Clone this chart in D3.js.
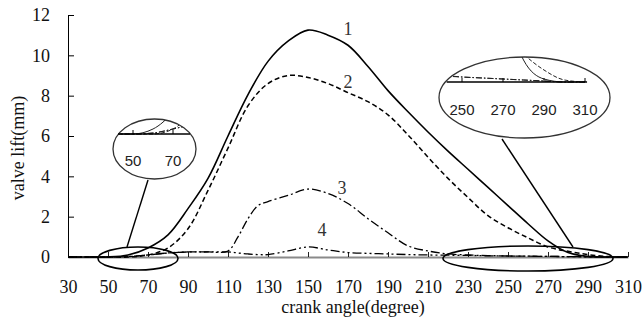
<!DOCTYPE html>
<html>
<head>
<meta charset="utf-8">
<script src="https://cdn.jsdelivr.net/npm/d3@7"></script>
<style>
  body { margin: 0; background: #fff; }
  svg { display: block; }
  .serif { font-family: "Liberation Serif", "Times New Roman", serif; }
  .sans { font-family: "Liberation Sans", Arial, sans-serif; }
</style>
</head>
<body>
<div id="chart"></div>
<script>
// crank angle (degree)
const angles12 = [30, 40, 50, 60, 70, 80, 90, 100, 110, 120, 130, 140, 150, 160, 170, 180, 190, 200, 210, 220, 230, 240, 250, 260, 270, 280, 290, 300, 310];
const angles34 = [30, 40, 50, 60, 70, 80, 90, 100, 110, 115, 120, 125, 130, 140, 150, 160, 170, 180, 190, 200, 210, 220, 230, 240, 250, 260, 270, 280, 290, 300, 310];
// valve lift (mm) for the 4 curves
const lift1 = [0, 0, 0, 0.1, 0.45, 1.1, 2.4, 3.9, 6.0, 8.05, 9.7, 10.7, 11.25, 11.0, 10.5, 9.45, 8.25, 7.2, 6.2, 5.25, 4.35, 3.45, 2.55, 1.65, 0.8, 0.22, 0.03, 0, 0];
const lift2 = [0, 0, 0, 0, 0.1, 0.45, 1.4, 3.3, 5.4, 7.5, 8.6, 9.0, 8.9, 8.6, 8.15, 7.7, 7.05, 6.05, 4.95, 3.9, 2.95, 2.05, 1.45, 0.95, 0.5, 0.28, 0.12, 0.02, 0];
const lift3 = [0, 0, 0, 0.02, 0.1, 0.2, 0.25, 0.25, 0.3, 1.0, 1.9, 2.55, 2.75, 3.05, 3.37, 3.15, 2.65, 1.9, 1.2, 0.55, 0.3, 0.15, 0.1, 0.07, 0.05, 0.04, 0.03, 0.02, 0.01, 0, 0];
const lift4 = [0, 0, 0, 0.02, 0.1, 0.2, 0.25, 0.25, 0.25, 0.2, 0.15, 0.12, 0.12, 0.3, 0.5, 0.35, 0.22, 0.18, 0.15, 0.12, 0.1, 0.09, 0.08, 0.06, 0.05, 0.04, 0.03, 0.02, 0.01, 0, 0];
const curveNames = ["1", "2", "3", "4"];
const xTicks = d3.range(30, 311, 20);
const yTicks = d3.range(0, 13, 2);
// zoomed windows (degree) shown in the two callouts
const leftZoom = [45, 85];
const rightZoom = [217.5, 302.5];
const leftInsetTicks = [50, 70];
const rightInsetTicks = [250, 270, 290, 310];

const width = 643, height = 320;
const margin = { top: 15, right: 15, bottom: 63, left: 68 };

const svg = d3.select('#chart').append('svg')
  .attr('width', width)
  .attr('height', height);

const x = d3.scaleLinear().domain([30, 310]).range([margin.left, width - margin.right]);
const y = d3.scaleLinear().domain([0, 12]).range([height - margin.bottom, margin.top]);

const series = [[angles12, lift1], [angles12, lift2], [angles34, lift3], [angles34, lift4]].map((s, i) => ({
  name: curveNames[i],
  values: s[0].map((a, j) => ({ a: a, v: s[1][j] }))
}));

const styles = [
  { dash: null, w: 1.6 },
  { dash: '5,3', w: 1.5 },
  { dash: '9,3,2,3', w: 1.3 },
  { dash: '9,3,2,3,2,3', w: 1.3 }
];

// x axis (grey baseline, small upward ticks)
const xAxisG = svg.append('g')
  .attr('class', 'serif')
  .attr('transform', `translate(0,${y(0)})`)
  .call(d3.axisBottom(x).tickValues(xTicks).tickSizeInner(-5).tickSizeOuter(0).tickPadding(23));
xAxisG.select('.domain').attr('stroke', '#8a8a8a').attr('stroke-width', 2.2);
xAxisG.selectAll('.tick line').attr('stroke', '#222');
xAxisG.selectAll('text').attr('font-size', 18).attr('fill', '#111');

// y axis
const yAxisG = svg.append('g')
  .attr('class', 'serif')
  .attr('transform', `translate(${x(30)},0)`)
  .call(d3.axisLeft(y).tickValues(yTicks).tickSizeInner(-6).tickSizeOuter(0).tickPadding(18));
yAxisG.select('.domain').attr('stroke', '#000');
yAxisG.selectAll('text').attr('font-size', 18).attr('fill', '#111');

// axis titles
svg.append('text').attr('class', 'serif')
  .attr('x', 353).attr('y', 313)
  .attr('text-anchor', 'middle').attr('font-size', 18).attr('fill', '#111')
  .text('crank angle(degree)');
svg.append('text').attr('class', 'serif')
  .attr('transform', 'translate(24,148) rotate(-90)')
  .attr('text-anchor', 'middle').attr('font-size', 18).attr('fill', '#111')
  .text('valve lift(mm)');

// curves
const line = d3.line().curve(d3.curveCatmullRom.alpha(0.5)).x(d => x(d.a)).y(d => y(Math.max(0, d.v)));
svg.append('g').selectAll('path')
  .data(series).join('path')
  .attr('fill', 'none')
  .attr('stroke', '#000')
  .attr('stroke-width', (d, i) => styles[i].w)
  .attr('stroke-dasharray', (d, i) => styles[i].dash)
  .attr('d', d => line(d.values));

// curve numbers
const labelPos = [[170, 11.0], [170, 8.4], [167, 3.1], [157, 1.05]];
svg.append('g').attr('class', 'serif').selectAll('text')
  .data(series).join('text')
  .attr('x', (d, i) => x(labelPos[i][0]))
  .attr('y', (d, i) => y(labelPos[i][1]))
  .attr('text-anchor', 'middle')
  .attr('font-size', 18).attr('fill', '#333')
  .text(d => d.name);

// ellipses marking zoomed regions on the axis
[leftZoom, rightZoom].forEach(z => {
  svg.append('ellipse')
    .attr('cx', x((z[0] + z[1]) / 2)).attr('cy', y(0) + 1.5)
    .attr('rx', (x(z[1]) - x(z[0])) / 2).attr('ry', z === leftZoom ? 11.5 : 12.5)
    .attr('fill', 'none').attr('stroke', '#000').attr('stroke-width', 1.6);
});

// callout insets
function inset(cfg) {
  const g = svg.append('g');
  const id = 'clip' + cfg.key;
  svg.append('clipPath').attr('id', id)
    .append('ellipse').attr('cx', cfg.cx).attr('cy', cfg.cy).attr('rx', cfg.rx).attr('ry', cfg.ry);

  const ix = d3.scaleLinear().domain(cfg.domain).range(cfg.range);
  const iy = d3.scaleLinear().domain([0, cfg.vmax]).range([cfg.base, cfg.cy - cfg.ry]);
  const iline = d3.line().curve(d3.curveMonotoneX).x(d => ix(d.a)).y(d => iy(d.v));

  g.append('ellipse')
    .attr('cx', cfg.cx).attr('cy', cfg.cy).attr('rx', cfg.rx).attr('ry', cfg.ry)
    .attr('fill', '#fff').attr('stroke', '#333').attr('stroke-width', 1.3);

  g.append('g').attr('clip-path', `url(#${id})`).selectAll('path')
    .data(series).join('path')
    .attr('fill', 'none').attr('stroke', '#222')
    .attr('stroke-width', 1)
    .attr('stroke-dasharray', (d, i) => i === 0 ? null : (i === 1 ? '4,2' : '6,2,1.5,2'))
    .attr('d', d => iline(d.values.filter(p => p.a >= cfg.lineDeg[0] - 10 && p.a <= cfg.lineDeg[1] + 10)));

  g.append('line')
    .attr('x1', ix(cfg.lineDeg[0])).attr('x2', ix(cfg.lineDeg[1]))
    .attr('y1', cfg.base).attr('y2', cfg.base)
    .attr('stroke', '#000').attr('stroke-width', 1.5);

  g.selectAll('.it').data(cfg.ticks).join('line')
    .attr('x1', d => ix(d)).attr('x2', d => ix(d))
    .attr('y1', cfg.base).attr('y2', cfg.base - 4)
    .attr('stroke', '#000');

  g.selectAll('text').data(cfg.ticks).join('text')
    .attr('class', 'sans')
    .attr('x', d => ix(d)).attr('y', cfg.labelY)
    .attr('text-anchor', 'middle')
    .attr('font-size', 15).attr('fill', '#222')
    .text(d => d);

  svg.append('line')
    .attr('x1', cfg.pointer[0]).attr('y1', cfg.pointer[1])
    .attr('x2', x(cfg.pointerDeg)).attr('y2', y(0) - 10)
    .attr('stroke', '#000').attr('stroke-width', 1.4);
}

inset({
  key: 'L', cx: 154.5, cy: 149, rx: 41.5, ry: 30, base: 134,
  domain: [50, 70], range: [133, 173], vmax: 0.3,
  lineDeg: [42.5, 78.5], ticks: leftInsetTicks, labelY: 166,
  pointer: [148, 180], pointerDeg: 59.5
});
inset({
  key: 'R', cx: 524.5, cy: 97.5, rx: 85.5, ry: 40.5, base: 82,
  domain: [250, 310], range: [462, 585], vmax: 0.25,
  lineDeg: [242.5, 311], ticks: rightInsetTicks, labelY: 115,
  pointer: [502, 139], pointerDeg: 282.5
});
</script>
</body>
</html>
